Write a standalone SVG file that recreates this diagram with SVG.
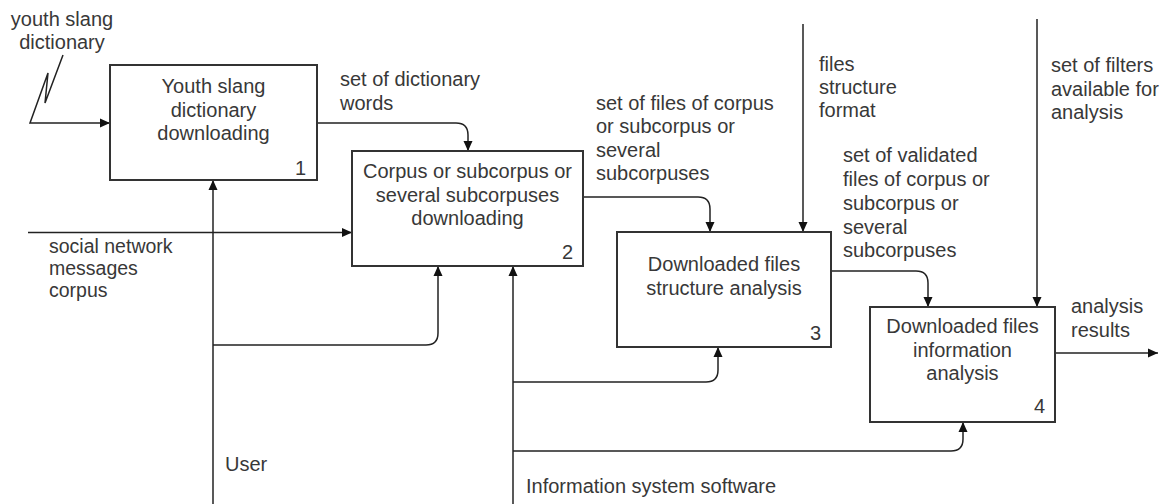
<svg xmlns="http://www.w3.org/2000/svg" width="1168" height="504" viewBox="0 0 1168 504">
<defs>
<marker id="arr" viewBox="0 0 10 10" refX="10" refY="5" markerWidth="10" markerHeight="10" markerUnits="userSpaceOnUse" orient="auto">
<path d="M0,0.5 L10,5 L0,9.5 z" fill="#111"/>
</marker>
<style>
text{font-family:"Liberation Sans",Arial,sans-serif;font-size:20px;fill:#383838}
.c{text-anchor:middle}
.r{text-anchor:end}
.s{font-size:19.5px}
.box{fill:#fff;stroke:#333;stroke-width:2}
.ln{fill:none;stroke:#222;stroke-width:1.5}
.ar{marker-end:url(#arr)}
</style>
</defs>
<rect width="1168" height="504" fill="#fff"/>

<g id="connectors">
<path class="ln ar" d="M63,55 L45,103 L48,73 L30,123 L110,123"/>
<path class="ln ar" d="M317,123 L456,123 Q468,123 468,135 L468,151"/>
<path class="ln ar" d="M28,232.5 L352,232.5"/>
<path class="ln ar" d="M583,197 L698,197 Q710,197 710,209 L710,232"/>
<path class="ln ar" d="M803,24 L803,232"/>
<path class="ln ar" d="M831,271 L916,271 Q928,271 928,283 L928,307"/>
<path class="ln ar" d="M1037,19 L1037,307"/>
<path class="ln ar" d="M1055,353 L1158,353"/>
<path class="ln ar" d="M213,504 L213,180"/>
<path class="ln ar" d="M213,345 L426,345 Q438,345 438,333 L438,266"/>
<path class="ln ar" d="M513,504 L513,266"/>
<path class="ln ar" d="M513,382 L706,382 Q718,382 718,370 L718,347"/>
<path class="ln ar" d="M513,451 L951,451 Q963,451 963,439 L963,422"/>
</g>

<g id="labels">
<text class="c" x="62" y="26">youth slang</text>
<text class="c" x="62" y="49">dictionary</text>
<text x="340" y="86">set of dictionary</text>
<text x="340" y="110">words</text>
<text x="596" y="109.5">set of files of corpus</text>
<text x="596" y="133">or subcorpus or</text>
<text x="596" y="156.5">several</text>
<text x="596" y="180">subcorpuses</text>
<text x="819" y="71">files</text>
<text x="819" y="94">structure</text>
<text x="819" y="117">format</text>
<text x="1051" y="72">set of filters</text>
<text x="1051" y="96">available for</text>
<text x="1051" y="119">analysis</text>
<text x="843" y="162">set of validated</text>
<text x="843" y="186">files of corpus or</text>
<text x="843" y="210">subcorpus or</text>
<text x="843" y="233.5">several</text>
<text x="843" y="257">subcorpuses</text>
<text x="1071" y="313">analysis</text>
<text x="1071" y="337">results</text>
<text class="s" x="49" y="253">social network</text>
<text class="s" x="49" y="275">messages</text>
<text class="s" x="49" y="297">corpus</text>
<text x="225" y="471">User</text>
<text x="526" y="493">Information system software</text>
</g>

<g id="node1">
<rect class="box" x="110" y="65" width="207" height="115"/>
<text class="c" x="213.5" y="93">Youth slang</text>
<text class="c" x="213.5" y="116.5">dictionary</text>
<text class="c" x="213.5" y="140">downloading</text>
<text class="r" x="306" y="175">1</text>
</g>
<g id="node2">
<rect class="box" x="352" y="151" width="231" height="115"/>
<text class="c" x="467.5" y="178">Corpus or subcorpus or</text>
<text class="c" x="467.5" y="201.5">several subcorpuses</text>
<text class="c" x="467.5" y="225">downloading</text>
<text class="r" x="573" y="259">2</text>
</g>
<g id="node3">
<rect class="box" x="617" y="232" width="214" height="115"/>
<text class="c" x="724" y="271">Downloaded files</text>
<text class="c" x="724" y="295">structure analysis</text>
<text class="r" x="821" y="340">3</text>
</g>
<g id="node4">
<rect class="box" x="870" y="307" width="185" height="115"/>
<text class="c" x="962.5" y="333">Downloaded files</text>
<text class="c" x="962.5" y="357">information</text>
<text class="c" x="962.5" y="380">analysis</text>
<text class="r" x="1045" y="413">4</text>
</g>
</svg>
